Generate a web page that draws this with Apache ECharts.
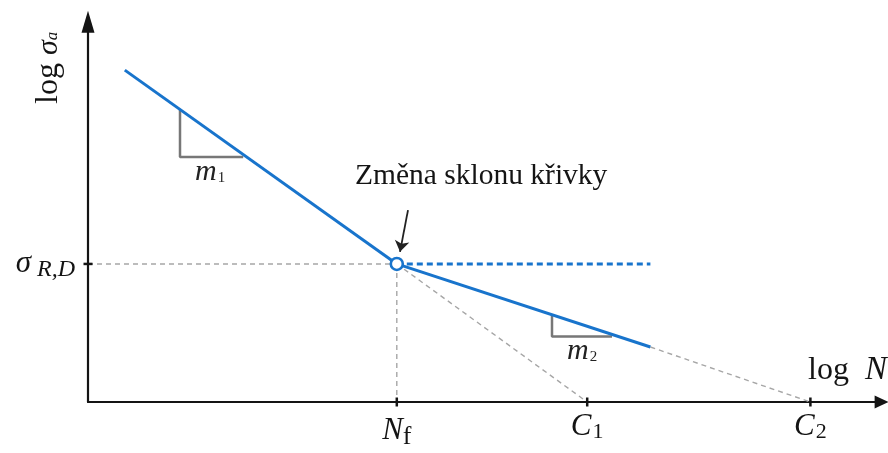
<!DOCTYPE html>
<html>
<head>
<meta charset="utf-8">
<script src="https://cdn.jsdelivr.net/npm/echarts@6/dist/echarts.min.js"></script>
<style>
  html, body { margin: 0; padding: 0; background: #fff; }
  #chart { width: 888px; height: 453px; }
</style>
</head>
<body>
<div id="chart"></div>
<script>
// S-N (Wöhler) curve in log-log coordinates, schematic units
const xMax = 9.92;
const yMax = 9.75;
const nF = 3.86;          // knee point cycles (log N_f)
const c1 = 6.24;          // intercept of slope m1
const c2 = 9.03;          // intercept of slope m2
const sigmaRD = 3.54;     // fatigue limit level (log sigma_R,D)

const branchM1 = [[0.46, 8.51], [nF, sigmaRD]];
const branchM2 = [[nF, sigmaRD], [7.03, 1.41]];
const enduranceLimit = [[nF, sigmaRD], [7.03, sigmaRD]];
const guideLevel = [[0, sigmaRD], [nF, sigmaRD]];
const guideKnee = [[nF, sigmaRD], [nF, 0]];
const extensionM1 = [[nF, sigmaRD], [c1, 0]];
const extensionM2 = [[7.03, 1.41], [c2, 0]];
const slopeMarkM1 = [[1.15, 7.50], [1.15, 6.28], [1.94, 6.28]];
const slopeMarkM2 = [[5.80, 2.24], [5.80, 1.68], [6.55, 1.68]];
const calloutArrow = [[4.00, 4.92], [3.90, 3.85]];
const xTickValues = [nF, c1, c2];
const xTickNames = ['{n|N}{fs|f}', '{n|C}{ds|1}', '{n|C}{ds|2}'];
const yTickValues = [sigmaRD];

const BLUE = '#1874cc';
const GREY = '#a6a6a6';
const INK = '#141414';
const SERIF = '"Liberation Serif", "DejaVu Serif", serif';

const chart = echarts.init(document.getElementById('chart'), null, { renderer: 'canvas' });

const gridLeft = 88, gridBottom = 402, xUnit = 80, yUnit = 39;

const guide = (data) => ({
  type: 'line', data, symbol: 'none', silent: true, z: 1,
  lineStyle: { color: GREY, width: 1.4, type: [5, 4] }
});

chart.setOption({
  animation: false,
  backgroundColor: '#fff',
  grid: {
    left: gridLeft,
    top: gridBottom - yMax * yUnit,
    width: xMax * xUnit,
    height: yMax * yUnit
  },
  xAxis: {
    type: 'value', min: 0, max: xMax,
    axisLine: { show: true, lineStyle: { color: INK, width: 2.2 }, symbol: ['none', 'triangle'], symbolSize: [13, 14] },
    axisTick: { show: false },
    splitLine: { show: false },
    axisLabel: {
      customValues: xTickValues,
      margin: 9,
      formatter: (v) => xTickNames[xTickValues.indexOf(v)],
      rich: {
        n: { fontFamily: SERIF, fontStyle: 'italic', fontSize: 31, color: INK },
        fs: { fontFamily: SERIF, fontSize: 26, color: INK, padding: [13, 0, 0, 0] },
        ds: { fontFamily: SERIF, fontSize: 22, color: INK, padding: [10, 0, 0, 1] }
      }
    }
  },
  yAxis: {
    type: 'value', min: 0, max: yMax,
    axisLine: { show: true, lineStyle: { color: INK, width: 2.2 }, symbol: ['none', 'triangle'], symbolSize: [13, 22] },
    axisTick: { show: false },
    splitLine: { show: false },
    axisLabel: {
      customValues: yTickValues,
      margin: 13,
      formatter: () => '{s|σ}{sub|R,D}',
      rich: {
        s: { fontFamily: SERIF, fontStyle: 'italic', fontSize: 31, color: INK },
        sub: { fontFamily: SERIF, fontStyle: 'italic', fontSize: 24, color: INK, padding: [12, 0, 0, 6] }
      }
    }
  },
  series: [
    guide(guideLevel),
    guide(guideKnee),
    guide(extensionM1),
    guide(extensionM2),
    {
      type: 'line', data: slopeMarkM1, symbol: 'none', z: 2,
      lineStyle: { color: '#777', width: 2.5 }
    },
    {
      type: 'line', data: slopeMarkM2, symbol: 'none', z: 2,
      lineStyle: { color: '#777', width: 2.5 }
    },
    {
      type: 'line', data: enduranceLimit, symbol: 'none', z: 3,
      lineStyle: { color: BLUE, width: 3, type: [6, 4] }
    },
    {
      type: 'line', data: branchM1, symbol: 'none', z: 4,
      lineStyle: { color: BLUE, width: 3 },
      markLine: {
        silent: true,
        animation: false,
        symbolSize: 11,
        label: { show: false },
        lineStyle: { color: '#222', width: 1.8, type: 'solid' },
        data: [[
          { coord: calloutArrow[0], symbol: 'none' },
          { coord: calloutArrow[1], symbol: 'arrow' }
        ]]
      }
    },
    {
      type: 'line', data: branchM2, symbol: 'none', z: 4,
      lineStyle: { color: BLUE, width: 3 }
    },
    {
      type: 'scatter', z: 6,
      data: [[nF, sigmaRD]],
      symbol: 'circle', symbolSize: 12,
      itemStyle: { color: '#fff', borderColor: BLUE, borderWidth: 2.6, opacity: 1 }
    },
    {
      type: 'scatter', z: 5,
      data: xTickValues.map((v) => [v, 0]),
      symbol: 'rect', symbolSize: [2.5, 9],
      itemStyle: { color: INK, opacity: 1 }
    },
    {
      type: 'scatter', z: 5,
      data: yTickValues.map((v) => [0, v]),
      symbol: 'rect', symbolSize: [9, 2.5],
      itemStyle: { color: INK, opacity: 1 }
    }
  ],
  graphic: [
    {
      type: 'text', left: 355, top: 161,
      style: { text: 'Změna sklonu křivky', font: '29.5px ' + SERIF, fill: INK }
    },
    {
      type: 'text', left: 808, top: 354,
      style: {
        text: '{u|log}{i|N}',
        rich: {
          u: { fontFamily: SERIF, fontSize: 32, fill: INK },
          i: { fontFamily: SERIF, fontSize: 33, fontStyle: 'italic', fill: INK, padding: [0, 0, 0, 16] }
        }
      }
    },
    {
      type: 'text', x: 33, y: 104, rotation: Math.PI / 2,
      style: {
        text: '{u|log}{i|σ}{a|a}',
        rich: {
          u: { fontFamily: SERIF, fontSize: 32, fill: INK },
          i: { fontFamily: SERIF, fontSize: 30, fontStyle: 'italic', fill: INK, padding: [0, 0, 0, 8] },
          a: { fontFamily: SERIF, fontSize: 17, fontStyle: 'italic', fill: INK, padding: [8, 0, 0, 0] }
        }
      }
    },
    {
      type: 'text', left: 195, top: 157,
      style: {
        text: '{m|m}{d|1}',
        rich: {
          m: { fontFamily: SERIF, fontSize: 30, fontStyle: 'italic', fill: '#222' },
          d: { fontFamily: SERIF, fontSize: 15, fill: '#222', padding: [12, 0, 0, 1] }
        }
      }
    },
    {
      type: 'text', left: 567, top: 336,
      style: {
        text: '{m|m}{d|2}',
        rich: {
          m: { fontFamily: SERIF, fontSize: 30, fontStyle: 'italic', fill: '#222' },
          d: { fontFamily: SERIF, fontSize: 15, fill: '#222', padding: [12, 0, 0, 1] }
        }
      }
    }
  ]
});
</script>
</body>
</html>
